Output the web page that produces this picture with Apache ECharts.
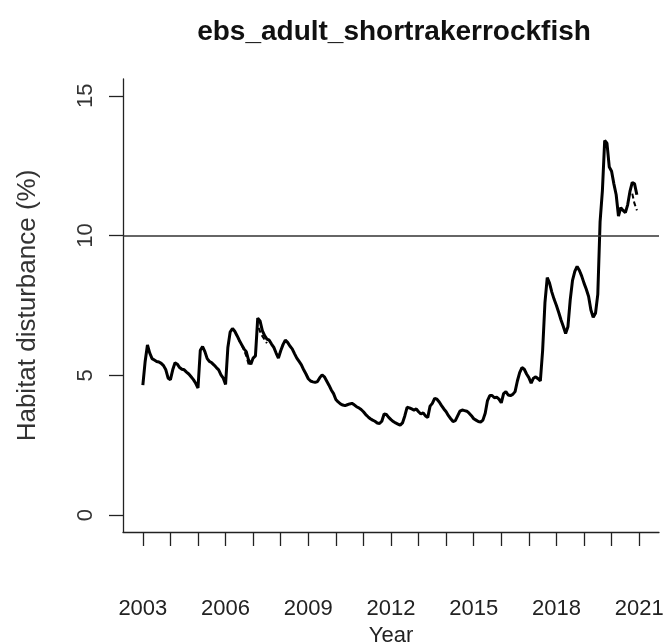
<!DOCTYPE html>
<html>
<head>
<meta charset="utf-8">
<script src="https://cdn.jsdelivr.net/npm/echarts@6/dist/echarts.min.js"></script>
<style>html,body{margin:0;padding:0;background:#fff}#c{width:668px;height:642px}</style>
</head>
<body>
<div id="c"></div>
<script>
const titleText = 'ebs_adult_shortrakerrockfish';
const xName = 'Year';
const yName = 'Habitat disturbance (%)';
const startYear = 2003;
const tickYears = [2003,2004,2005,2006,2007,2008,2009,2010,2011,2012,2013,2014,2015,2016,2017,2018,2019,2020,2021];
const labelYears = [2003,2006,2009,2012,2015,2018,2021];
const yTicks = [0,5,10,15];
const threshold = 10;
// monthly values, Jan 2003 .. Dec 2020
const mainValues = [
 4.65,5.5,6.09,5.8,5.6,5.55,5.5,5.48,5.43,5.35,5.2,4.9,
 4.85,5.2,5.45,5.4,5.28,5.22,5.2,5.12,5.05,4.95,4.85,4.72,
 4.55,5.9,6.03,5.85,5.6,5.5,5.45,5.37,5.28,5.2,5.02,4.9,
 4.68,6.0,6.55,6.68,6.58,6.42,6.25,6.1,5.95,5.85,5.55,5.4,
 5.62,5.7,7.05,6.95,6.6,6.42,6.3,6.26,6.12,6.0,5.8,5.62,
 5.88,6.1,6.26,6.18,6.05,5.95,5.78,5.62,5.5,5.38,5.2,5.05,
 4.88,4.8,4.77,4.75,4.78,4.92,5.02,4.95,4.8,4.65,4.48,4.35,
 4.14,4.05,3.98,3.94,3.92,3.95,3.98,4.0,3.95,3.88,3.84,3.78,
 3.7,3.6,3.52,3.45,3.4,3.36,3.3,3.28,3.36,3.62,3.6,3.5,
 3.42,3.35,3.3,3.26,3.22,3.3,3.55,3.86,3.84,3.8,3.76,3.8,
 3.7,3.62,3.66,3.55,3.5,3.9,4.0,4.18,4.15,4.05,3.92,3.8,
 3.7,3.56,3.45,3.35,3.38,3.55,3.72,3.76,3.74,3.72,3.65,3.56,
 3.45,3.4,3.35,3.33,3.4,3.65,4.1,4.28,4.28,4.2,4.22,4.15,
 4.02,4.35,4.42,4.3,4.28,4.32,4.42,4.8,5.1,5.28,5.22,5.05,
 4.92,4.72,4.9,4.95,4.88,4.8,5.9,7.6,8.5,8.3,7.98,7.72,
 7.5,7.25,6.98,6.75,6.5,6.74,7.7,8.4,8.72,8.9,8.75,8.55,
 8.3,8.08,7.82,7.34,7.08,7.22,7.9,10.5,11.6,13.4,13.3,12.45,
 12.3,11.85,11.46,10.7,11.0,10.9,10.82,11.1,11.58,11.9,11.85,11.46
];
// second (dashed) estimate where it separates from the main line
const altYears = [2006.45,2006.55,2006.65,2006.75,2006.85,null,2007.2,2007.3,2007.4,2007.5,null,2020.75,2020.83,2020.92];
const altValues = [6.35,6.15,5.95,5.7,5.35,null,6.7,6.45,6.3,6.15,null,11.5,11.15,10.9];

const mainData = mainValues.map((v,i)=>[startYear + i/12, v]);
const altData = altYears.map((y,i)=> y===null ? [null,null] : [y, altValues[i]]);

const font = 'Liberation Sans, Arial, sans-serif';
const chart = echarts.init(document.getElementById('c'));
chart.setOption({
  animation:false,
  backgroundColor:'#fff',
  title:{text:titleText,left:389,top:13,textAlign:'center',
    textStyle:{fontFamily:font,fontSize:28,fontWeight:'bold',color:'#111'}},
  grid:{left:123,top:79,right:9,bottom:110,containLabel:false,outerBoundsMode:'none'},
  xAxis:{type:'value',min:2002.28,max:2021.72,
    name:xName,nameLocation:'middle',nameGap:88,
    nameTextStyle:{fontFamily:font,fontSize:22,color:'#222'},
    axisLine:{show:true,onZero:false,lineStyle:{color:'#222',width:1.3}},
    axisTick:{show:true,inside:false,length:14,customValues:tickYears,lineStyle:{color:'#222',width:1.3}},
    axisLabel:{customValues:labelYears,margin:66,fontFamily:font,fontSize:22,color:'#222',formatter:v=>String(v)},
    splitLine:{show:false}},
  yAxis:{type:'value',min:-0.6,max:15.6,
    name:yName,nameLocation:'middle',nameGap:82,nameRotate:90,
    nameTextStyle:{fontFamily:font,fontSize:26,color:'#333'},
    axisLine:{show:true,onZero:false,lineStyle:{color:'#222',width:1.3}},
    axisTick:{show:true,inside:false,length:14,customValues:yTicks,lineStyle:{color:'#222',width:1.3}},
    axisLabel:{customValues:yTicks,rotate:90,margin:26,fontFamily:font,fontSize:22,color:'#333',formatter:v=>String(v)},
    splitLine:{show:false}},
  series:[
    {type:'line',data:mainData,showSymbol:false,lineStyle:{color:'#000',width:3},
      markLine:{silent:true,symbol:'none',label:{show:false},
        lineStyle:{color:'#333',width:1.5,type:'solid'},data:[{yAxis:threshold}]}},
    {type:'line',data:altData,showSymbol:false,connectNulls:false,lineStyle:{color:'#000',width:2,type:[5,3]}}
  ]
});
</script>
</body>
</html>
